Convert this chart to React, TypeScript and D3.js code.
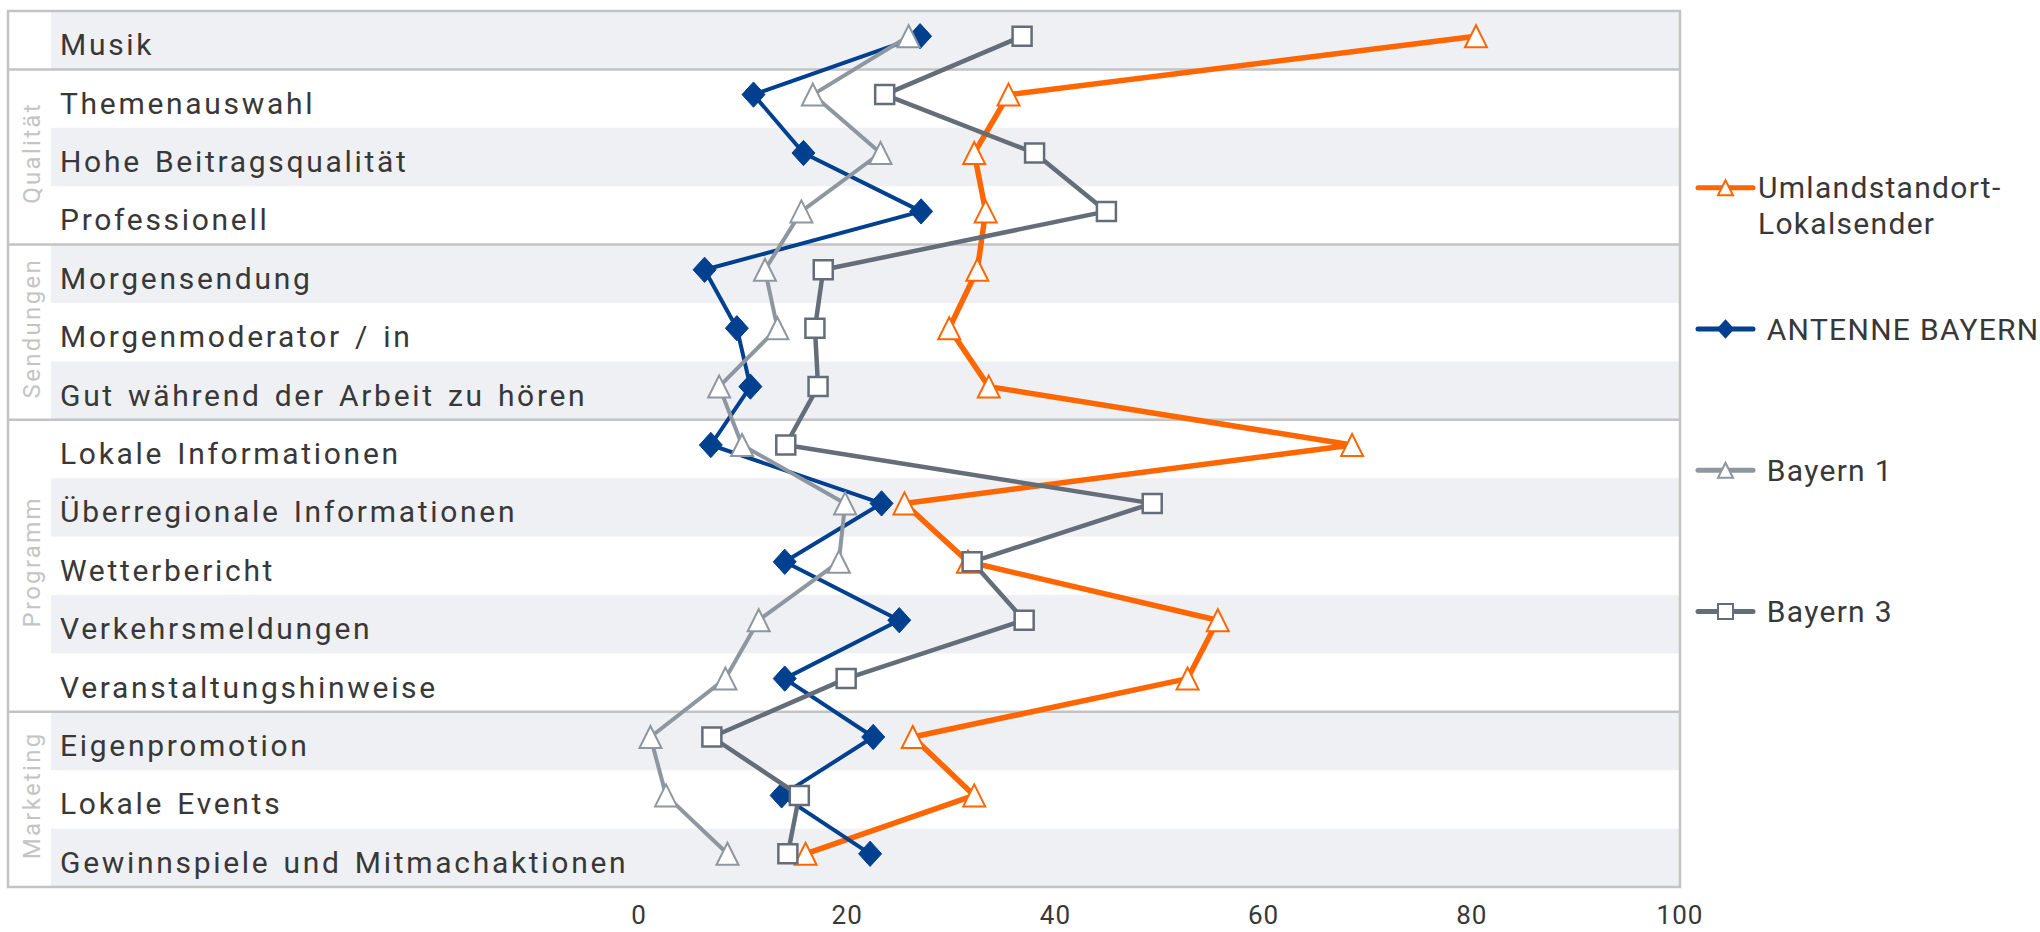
import React from "react";
import * as d3 from "d3";

const categories = [
  "Musik",
  "Themenauswahl",
  "Hohe Beitragsqualität",
  "Professionell",
  "Morgensendung",
  "Morgenmoderator / in",
  "Gut während der Arbeit zu hören",
  "Lokale Informationen",
  "Überregionale Informationen",
  "Wetterbericht",
  "Verkehrsmeldungen",
  "Veranstaltungshinweise",
  "Eigenpromotion",
  "Lokale Events",
  "Gewinnspiele und Mitmachaktionen",
];

const groupNames = ["", "Qualität", "Sendungen", "Programm", "Marketing"];
const groupSizes = [1, 3, 3, 5, 3];

const umland = [80.4, 35.5, 32.2, 33.3, 32.5, 29.8, 33.6, 68.5, 25.5, 31.6, 55.6, 52.7, 26.3, 32.2, 16.0];
const antenne = [27.0, 11.0, 15.8, 27.1, 6.3, 9.4, 10.7, 6.9, 23.3, 14.0, 25.0, 14.0, 22.5, 13.7, 22.2];
const bayern1 = [25.9, 16.7, 23.2, 15.6, 12.1, 13.3, 7.7, 9.9, 19.8, 19.2, 11.5, 8.3, 1.1, 2.6, 8.5];
const bayern3 = [36.8, 23.6, 38.0, 44.9, 17.7, 16.9, 17.2, 14.1, 49.3, 32.0, 37.0, 19.9, 7.0, 15.4, 14.3];

const xTicks = [0, 20, 40, 60, 80, 100];

const seriesNames = ["Umlandstandort-\nLokalsender", " ANTENNE BAYERN", " Bayern 1", " Bayern 3"];

const triangleType = {
  draw(ctx: any, size: number) {
    const s = Math.sqrt(size);
    ctx.moveTo(0, -s / 2);
    ctx.lineTo(s / 2, s / 2);
    ctx.lineTo(-s / 2, s / 2);
    ctx.closePath();
  },
};
const diamondType = {
  draw(ctx: any, size: number) {
    const s = Math.sqrt(size);
    ctx.moveTo(0, -s * 0.55);
    ctx.lineTo(s / 2, 0);
    ctx.lineTo(0, s * 0.55);
    ctx.lineTo(-s / 2, 0);
    ctx.closePath();
  },
};
const squareType = {
  draw(ctx: any, size: number) {
    const s = Math.sqrt(size);
    ctx.rect(-s / 2, -s / 2, s, s);
  },
};

const FONT = "Roboto, 'Liberation Sans', Arial, sans-serif";

export default function App() {
  const W = 2040;
  const H = 932;
  const frameLeft = 8;
  const bandLeft = 51;
  const top = 11;
  const bottom = 887;

  const x = d3.scaleLinear().domain([0, 100]).range([639, 1680]);
  const y = d3.scaleBand<string>().domain(categories).range([top, bottom]).padding(0);
  const bw = y.bandwidth();
  const py = (c: string) => (y(c) as number) + bw / 2 - 4;

  const series = [
    { name: seriesNames[0], values: umland, color: "#ff6600", width: 5.5, type: triangleType, size: 22 * 22, fill: "#ffffff", stroke: "#ff6600", sw: 2, lsize: 15 * 15 },
    { name: seriesNames[1], values: antenne, color: "#00408f", width: 4, type: diamondType, size: 23 * 23, fill: "#00408f", stroke: "#00408f", sw: 1, lsize: 15 * 15 },
    { name: seriesNames[2], values: bayern1, color: "#8e969f", width: 4, type: triangleType, size: 22 * 22, fill: "#ffffff", stroke: "#8e969f", sw: 2, lsize: 15 * 15 },
    { name: seriesNames[3], values: bayern3, color: "#646d78", width: 4.5, type: squareType, size: 19 * 19, fill: "#ffffff", stroke: "#646d78", sw: 2.5, lsize: 15 * 15 },
  ];

  const line = d3
    .line<number>()
    .x((d) => x(d))
    .y((_, i) => py(categories[i]));

  let acc = 0;
  const groups = groupNames.map((g, i) => {
    const start = acc;
    acc += groupSizes[i];
    return { name: g, start, end: acc };
  });
  const rowTop = (i: number) => top + i * bw;

  const legendX0 = 1698;
  const legendX1 = 1753;
  const legendY0 = 187.7;
  const legendStep = 141.3;

  return (
    <svg
      width={W}
      height={H}
      style={{ position: "absolute", left: 0, top: 0, background: "#ffffff" }}
      fontFamily={FONT}
    >
      {categories.map((c, i) =>
        i % 2 === 0 ? (
          <rect key={"b" + i} x={bandLeft} y={y(c)} width={x(100) - bandLeft} height={bw} fill="#eff0f4" />
        ) : null
      )}
      {groups.slice(1).map((g, i) => (
        <line
          key={"gd" + i}
          x1={frameLeft}
          x2={x(100)}
          y1={rowTop(g.start)}
          y2={rowTop(g.start)}
          stroke="#c3c3c3"
          strokeWidth={2.5}
        />
      ))}
      <rect x={frameLeft} y={top} width={x(100) - frameLeft} height={bottom - top} fill="none" stroke="#c3c3c3" strokeWidth={2.5} />

      {groups.map((g, i) =>
        g.name ? (
          <text
            key={"gl" + i}
            transform={`translate(31,${(rowTop(g.start) + rowTop(g.end)) / 2 - 4}) rotate(-90)`}
            textAnchor="middle"
            dy="0.36em"
            fontSize={24}
            letterSpacing={2.3}
            fill="#c4c4c4"
          >
            {g.name}
          </text>
        ) : null
      )}

      {categories.map((c, i) => (
        <text
          key={"cl" + i}
          x={60}
          y={(y(c) as number) + bw / 2 + 15}
          fontSize={30}
          letterSpacing={2.7}
          wordSpacing={3}
          fill="#383838"
        >
          {c}
        </text>
      ))}

      {xTicks.map((t) => (
        <text key={"t" + t} x={x(t)} y={924} textAnchor="middle" fontSize={26} letterSpacing={1} fill="#383838">
          {t}
        </text>
      ))}

      {series.map((s, si) => {
        const sym = d3.symbol().type(s.type as any).size(s.size);
        return (
          <g key={"s" + si}>
            <path d={line(s.values) || ""} fill="none" stroke={s.color} strokeWidth={s.width} strokeLinejoin="round" />
            {s.values.map((v, i) => (
              <path
                key={i}
                d={sym() || ""}
                transform={`translate(${x(v)},${py(categories[i])})`}
                fill={s.fill}
                stroke={s.stroke}
                strokeWidth={s.sw}
              />
            ))}
          </g>
        );
      })}

      {series.map((s, si) => {
        const ly = legendY0 + si * legendStep;
        const sym = d3.symbol().type(s.type as any).size(s.lsize);
        const lines = s.name.split("\n");
        return (
          <g key={"lg" + si}>
            <line x1={legendX0} x2={legendX1} y1={ly} y2={ly} stroke={s.color} strokeWidth={5} strokeLinecap="round" />
            <path d={sym() || ""} transform={`translate(${(legendX0 + legendX1) / 2},${ly})`} fill={s.fill} stroke={s.stroke} strokeWidth={2} />
            <text x={1758} y={ly + 10.5} fontSize={30} letterSpacing={1.3} fill="#383838" style={{ whiteSpace: "pre" }}>
              {lines.map((l, li) => (
                <tspan key={li} x={1758} dy={li === 0 ? 0 : 36}>
                  {l}
                </tspan>
              ))}
            </text>
          </g>
        );
      })}
    </svg>
  );
}
